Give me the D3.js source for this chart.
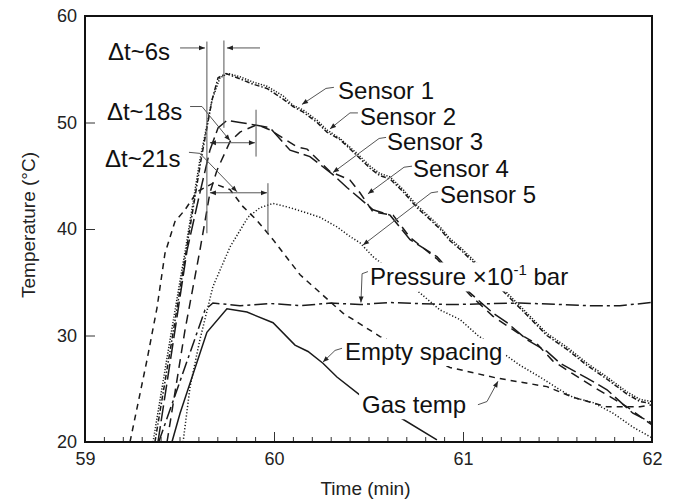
<!DOCTYPE html>
<html lang="en">
<head>
<meta charset="UTF-8">
<title>Sensor temperatures</title>
<script src="https://d3js.org/d3.v7.min.js"></script>
<style>
    body { margin: 0; background: #fff; }
    svg { display: block; background: #fff; font-family: "Liberation Sans", Arial, sans-serif; }
    .tick text { font-size: 18px; fill: #222; }
    .tick line { stroke: #333; stroke-width: 1; }
    .axis-title { font-size: 19px; fill: #222; }
    .note { font-size: 24px; fill: #111; }
    .curve { fill: none; stroke: #1a1a1a; stroke-width: 1.5; }
    .marker-line { fill: none; stroke: #555; stroke-width: 1; }
</style>
</head>
<body>
<svg id="chart" width="675" height="504"></svg>
<script>
// axis ticks
const xTicks = [59, 60, 61, 62];
const yTicks = [20, 30, 40, 50, 60];

// Sensor 1 (dotted)
const s1Time = [59.36, 59.45, 59.54, 59.608, 59.672, 59.714, 59.757, 59.82, 59.889, 59.963, 60.048, 60.101, 60.153, 60.228, 60.28, 60.349, 60.439, 60.508, 60.561, 60.614, 60.683, 60.757, 60.825, 60.878, 60.931, 60.984, 61.037, 61.233, 61.339, 61.444, 61.55, 61.656, 61.762, 61.868, 61.937, 62.0];
const s1Temp = [20.0, 29.6, 39.0, 46.5, 52.1, 54.2, 54.6, 54.3, 53.8, 53.4, 52.5, 51.6, 51.2, 50.2, 49.3, 48.5, 47.1, 45.9, 45.2, 44.9, 43.7, 42.2, 41.1, 40.2, 39.1, 38.3, 37.4, 34.0, 32.1, 30.2, 28.9, 27.4, 26.1, 24.7, 24.0, 23.8];

// Sensor 2 (dash-dot)
const s2Time = [59.37, 59.46, 59.545, 59.614, 59.672, 59.704, 59.746, 59.82, 59.889, 59.963, 60.048, 60.101, 60.153, 60.228, 60.28, 60.349, 60.439, 60.508, 60.561, 60.614, 60.683, 60.757, 60.825, 60.878, 60.931, 60.984, 61.037, 61.233, 61.339, 61.444, 61.55, 61.656, 61.762, 61.868, 61.937, 62.0];
const s2Temp = [20.0, 29.6, 39.0, 46.5, 52.1, 54.2, 54.6, 54.1, 53.6, 53.2, 52.2, 51.5, 51.0, 50.0, 49.1, 48.4, 46.9, 45.7, 45.0, 44.7, 43.5, 42.0, 40.9, 40.0, 38.9, 38.1, 37.2, 33.8, 31.9, 30.0, 28.7, 27.2, 25.9, 24.5, 23.8, 23.6];

// Sensor 3 (long dash)
const s3Time = [59.386, 59.46, 59.54, 59.608, 59.661, 59.704, 59.751, 59.82, 59.889, 59.979, 60.085, 60.19, 60.312, 60.386, 60.524, 60.614, 60.72, 60.862, 61.037, 61.159, 61.233, 61.339, 61.444, 61.513, 61.656, 61.762, 61.899, 62.0];
const s3Temp = [20.0, 28.6, 38.0, 43.4, 47.4, 49.5, 50.2, 50.0, 49.8, 49.5, 47.4, 46.8, 45.1, 43.9, 41.8, 41.3, 39.0, 37.4, 34.0, 32.1, 31.2, 29.6, 28.5, 27.4, 26.0, 24.9, 22.7, 21.8];

// Sensor 4 (dashed)
const s4Time = [59.434, 59.529, 59.608, 59.661, 59.698, 59.767, 59.82, 59.91, 59.979, 60.122, 60.175, 60.296, 60.402, 60.455, 60.524, 60.63, 60.72, 60.862, 61.037, 61.159, 61.302, 61.392, 61.476, 61.582, 61.688, 61.868, 62.0];
const s4Temp = [20.0, 30.5, 38.0, 43.4, 45.5, 48.2, 49.1, 49.8, 49.3, 47.7, 47.5, 45.4, 44.6, 43.4, 41.6, 41.3, 39.2, 37.2, 33.8, 31.8, 30.1, 29.2, 27.6, 26.4, 25.2, 23.3, 21.6];

// Sensor 5 (fine dotted)
const s5Time = [59.519, 59.556, 59.608, 59.677, 59.767, 59.862, 59.926, 59.995, 60.085, 60.175, 60.243, 60.333, 60.402, 60.455, 60.524, 60.772, 60.878, 60.984, 61.079, 61.302, 61.407, 61.513, 61.582, 61.688, 61.794, 61.899, 61.989, 62.0];
const s5Temp = [20.0, 25.2, 29.6, 34.6, 38.3, 41.1, 42.0, 42.4, 42.0, 41.5, 41.1, 40.2, 39.3, 38.7, 37.4, 34.0, 32.4, 31.5, 30.0, 27.2, 26.1, 24.9, 24.2, 23.7, 22.7, 21.4, 20.5, 20.4];

// Pressure x10^-1 bar (dash-dot)
const pTime = [59.39, 59.635, 59.677, 59.82, 59.98, 60.14, 60.30, 60.455, 60.61, 60.93, 61.30, 61.67, 61.83, 62.0];
const pVal = [20.0, 32.4, 33.05, 32.8, 33.0, 32.8, 33.05, 32.9, 33.1, 32.9, 33.05, 32.8, 32.8, 33.1];

// Empty spacing (solid)
const eTime = [59.46, 59.503, 59.645, 59.751, 59.857, 59.995, 60.111, 60.18, 60.259, 60.333, 60.455, 60.667, 60.862];
const eTemp = [20.0, 22.7, 30.3, 32.5, 32.2, 31.2, 29.1, 28.5, 27.4, 26.1, 24.4, 22.3, 20.2];

// Gas temp (short dash)
const gTime = [59.238, 59.328, 59.381, 59.423, 59.476, 59.529, 59.593, 59.677, 59.767, 59.836, 59.91, 59.995, 60.138, 60.365, 60.561, 60.931, 61.18, 61.444, 61.582, 61.762, 61.937, 62.0];
const gTemp = [20.0, 27.7, 32.6, 37.7, 40.7, 41.8, 43.5, 44.3, 43.7, 42.1, 40.8, 39.0, 35.7, 32.1, 29.9, 27.0, 26.0, 25.2, 24.2, 23.3, 23.3, 23.5];

// Δt marker lines: [time, temp from, temp to]
const markTime = [59.645, 59.735, 59.905, 59.968];
const markFrom = [39.6, 49.5, 46.8, 39.6];
const markTo = [57.6, 57.7, 51.2, 44.3];

// Δt arrows: [t start, t end, temp, both ends?]
const arrowT0 = [59.503, 59.926, 59.661, 59.661];
const arrowT1 = [59.635, 59.751, 59.899, 59.963];
const arrowV = [57.0, 57.0, 48.1, 43.4];
const arrowBoth = [false, false, true, true];

// annotation labels
const noteText = ["Δt~6s", "Δt~18s", "Δt~21s", "Sensor 1", "Sensor 2", "Sensor 3", "Sensor 4", "Sensor 5", "Pressure", "Empty spacing", "Gas temp"];
const noteTime = [59.122, 59.116, 59.106, 60.339, 60.455, 60.598, 60.735, 60.878, 60.508, 60.376, 60.466];
const noteTemp = [55.9, 50.2, 45.8, 52.2, 49.8, 47.4, 44.9, 42.4, 34.7, 27.7, 22.7];

// leader lines (text -> curve), time and temp lists
const leaderTime = [
    [59.556, 59.619, 59.767],
    [59.550, 59.608, 59.804],
    [60.317, 60.275, 60.148],
    [60.444, 60.402, 60.296],
    [60.593, 60.556, 60.312],
    [60.730, 60.688, 60.497],
    [60.868, 60.831, 60.471],
    [60.497, 60.466, 60.460],
    [60.360, 60.323, 60.259],
    [61.079, 61.127, 61.185]
];
const leaderTemp = [
    [51.5, 51.5, 48.3],
    [47.2, 47.1, 43.5],
    [53.3, 53.2, 51.7],
    [50.9, 50.9, 49.4],
    [48.6, 48.5, 45.3],
    [45.9, 45.8, 43.3],
    [43.5, 43.4, 38.5],
    [36.0, 35.8, 33.1],
    [28.8, 28.6, 27.5],
    [23.5, 23.8, 25.7]
];

const svg = d3.select("#chart");
const margin = { top: 16, right: 23, bottom: 62, left: 85 };
const width = +svg.attr("width") - margin.left - margin.right;
const height = +svg.attr("height") - margin.top - margin.bottom;

const x = d3.scaleLinear().domain([59, 62]).range([0, width]);
const y = d3.scaleLinear().domain([20, 60]).range([height, 0]);

svg.append("defs").append("marker")
    .attr("id", "arrow")
    .attr("viewBox", "0 0 10 10")
    .attr("refX", 10).attr("refY", 5)
    .attr("markerWidth", 7).attr("markerHeight", 6)
    .attr("markerUnits", "userSpaceOnUse")
    .attr("orient", "auto-start-reverse")
    .append("path").attr("d", "M0,1 L10,5 L0,9 z").attr("fill", "#222");

const g = svg.append("g").attr("transform", `translate(${margin.left},${margin.top})`);

// minor ticks on time axis
g.append("g")
    .attr("transform", `translate(0,${height})`)
    .call(d3.axisBottom(x).ticks(30).tickSize(-5).tickFormat(""))
    .call(a => a.select(".domain").remove());

// major ticks + labels
g.append("g")
    .attr("transform", `translate(0,${height})`)
    .call(d3.axisBottom(x).tickValues(xTicks).tickSize(-10).tickPadding(10).tickFormat(d3.format("d")))
    .call(a => a.select(".domain").remove());

g.append("g")
    .call(d3.axisLeft(y).tickValues(yTicks).tickSize(-10).tickPadding(8))
    .call(a => a.select(".domain").remove());

// curves
const line = d3.line().x(d => x(d[0])).y(d => y(d[1]));
const series = [
    { t: gTime, v: gTemp, dash: "6,5", w: 1.5 },
    { t: eTime, v: eTemp, dash: null, w: 1.6 },
    { t: pTime, v: pVal, dash: "13,4,3,4", w: 1.4 },
    { t: s5Time, v: s5Temp, dash: "1.2,2", w: 1.3 },
    { t: s4Time, v: s4Temp, dash: "9,6", w: 1.5 },
    { t: s3Time, v: s3Temp, dash: "16,5", w: 1.5 },
    { t: s2Time, v: s2Temp, dash: "5,2,1.5,2", w: 1.4 },
    { t: s1Time, v: s1Temp, dash: "1.2,1.6", w: 1.6 }
];
series.forEach(s => {
    g.append("path")
        .attr("class", "curve")
        .attr("d", line(s.t.map((t, i) => [t, s.v[i]])))
        .attr("stroke-width", s.w)
        .attr("stroke-dasharray", s.dash);
});

// Δt vertical markers
markTime.forEach((t, i) => {
    g.append("line").attr("class", "marker-line")
        .attr("x1", x(t)).attr("x2", x(t))
        .attr("y1", y(markFrom[i])).attr("y2", y(markTo[i]));
});

// Δt arrows
arrowT0.forEach((t, i) => {
    const a = g.append("line").attr("class", "marker-line")
        .attr("x1", x(t)).attr("x2", x(arrowT1[i]))
        .attr("y1", y(arrowV[i])).attr("y2", y(arrowV[i]))
        .attr("marker-end", "url(#arrow)");
    if (arrowBoth[i]) a.attr("marker-start", "url(#arrow)");
});

// labels with white backing boxes
noteText.forEach((txt, i) => {
    const lab = g.append("g");
    const t = lab.append("text")
        .attr("class", "note")
        .attr("x", x(noteTime[i]))
        .attr("y", y(noteTemp[i]));
    if (txt === "Pressure") {
        t.append("tspan").text("Pressure \u00d710");
        t.append("tspan").attr("dy", -10).attr("font-size", 15).text("-1");
        t.append("tspan").attr("dy", 10).text(" bar");
    } else {
        t.text(txt);
    }
    const b = t.node().getBBox();
    lab.insert("rect", "text")
        .attr("x", b.x - 3).attr("y", b.y + 1)
        .attr("width", b.width + 6).attr("height", b.height)
        .attr("fill", "#fff");
});

// leaders
leaderTime.forEach((ts, i) => {
    g.append("path").attr("class", "marker-line")
        .attr("stroke", "#333")
        .attr("d", line(ts.map((t, j) => [t, leaderTemp[i][j]])))
        .attr("marker-end", "url(#arrow)");
});

// frame
g.append("rect")
    .attr("width", width).attr("height", height)
    .attr("fill", "none").attr("stroke", "#111").attr("stroke-width", 2);

// axis titles
svg.append("text").attr("class", "axis-title")
    .attr("x", margin.left + width / 2 - 3).attr("y", 495)
    .attr("text-anchor", "middle").text("Time (min)");

svg.append("text").attr("class", "axis-title")
    .attr("transform", "translate(35,225) rotate(-90)")
    .attr("text-anchor", "middle").text("Temperature (°C)");
</script>
</body>
</html>
